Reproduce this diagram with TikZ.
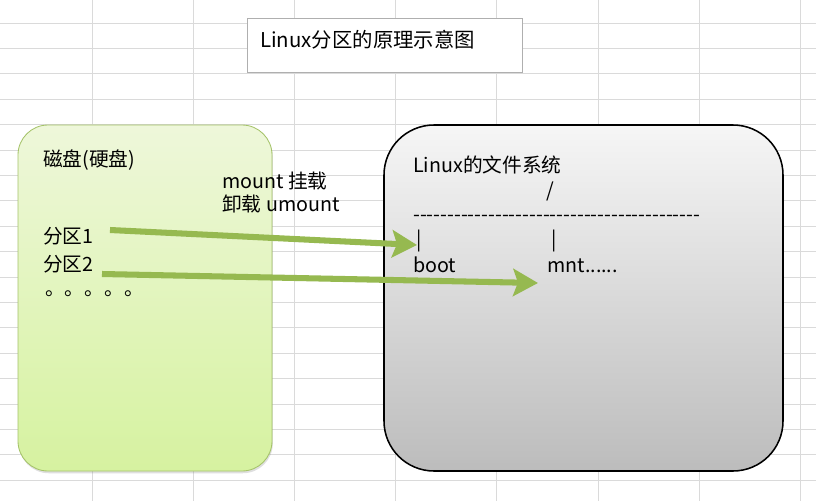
\documentclass[tikz,border=0pt]{standalone}
\usepackage{fontspec}
\setmainfont{Noto Sans CJK SC}
\newfontfamily\plainfont{Noto Sans CJK SC}
\usetikzlibrary{arrows.meta,shadows}
\definecolor{gridgray}{RGB}{218,218,218}
\definecolor{titleborder}{RGB}{175,175,175}
\definecolor{diskborder}{RGB}{165,195,105}
\definecolor{disktop}{RGB}{238,247,218}
\definecolor{diskbottom}{RGB}{214,242,160}
\definecolor{fstop}{RGB}{246,246,246}
\definecolor{fsbottom}{RGB}{188,188,188}
\definecolor{mountgreen}{RGB}{150,185,80}

\begin{document}
\begin{tikzpicture}[x=0.025cm, y=-0.025cm,
  gridline/.style={draw=gridgray, line width=0.6pt},
  txt/.style={anchor=base west, inner sep=0pt, font=\fontsize{14}{17}\selectfont},
  diskbox/.style={draw=diskborder, line width=0.6pt, rounded corners=0.75cm,
    top color=disktop, bottom color=diskbottom,
    drop shadow={shadow xshift=0.6pt, shadow yshift=-1.6pt, opacity=0.25}},
  fsbox/.style={draw=black, line width=1.1pt, rounded corners=1.25cm,
    top color=fstop, bottom color=fsbottom},
  mountarrow/.style={draw=mountgreen, line width=4.3pt,
    -{Stealth[length=0.62cm, width=0.68cm, inset=0.12cm]}}
]
\useasboundingbox (0,0) rectangle (816,501);
\fill[white] (0,0) rectangle (816,501);

% sheet grid
\foreach \i in {0,...,7}
  \draw[gridline] ({92+101.2*\i},0) -- ({92+101.2*\i},501);
\foreach \i in {0,...,18}
  \draw[gridline] (0,{23+25.4*\i}) -- (816,{23+25.4*\i});

% title
\draw[titleborder, fill=white, line width=0.6pt] (247,18) rectangle (522,72);
\node[txt, font=\fontsize{14.5}{17}\selectfont] (title) at (260,47) {Linux分区的原理示意图};

% disk
\path[diskbox] (18,125) rectangle (272,471);
\node[txt] (disk) at (43,166) {磁盘(硬盘)};
\node[txt] (part1) at (43,243) {分区1};
\node[txt] (part2) at (43,271) {分区2};
\node[txt] (more) at (45,295) {。。。。。};

\node[txt] (mount) at (222,188) {mount 挂载};
\node[txt] (umount) at (222,211) {卸载 umount};

% linux file system
\path[fsbox] (384,125) rectangle (783,471);
\node[txt] (fs) at (413,172) {Linux的文件系统};
\node[txt] (root) at (546,197) {/};
\node[txt] (rule) at (413,221) {\plainfont ------------------------------------------};
\node[txt] (bar1) at (416,246) {|};
\node[txt] (bar2) at (551,246) {|};
\node[txt] (boot) at (413,272) {boot};
\node[txt] (mnt) at (547,272) {mnt......};

\coordinate (p1out) at (110,230);
\coordinate (bootin) at (417,245);
\coordinate (p2out) at (102,274);
\coordinate (mntin) at (538,283);
\draw[mountarrow] (p1out) -- (bootin);
\draw[mountarrow] (p2out) -- (mntin);
\end{tikzpicture}
\end{document}
